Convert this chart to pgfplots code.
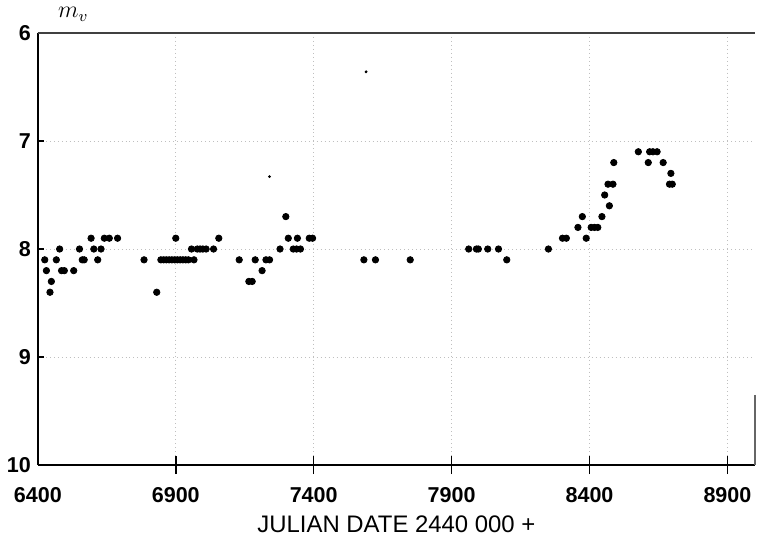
\documentclass[border=0pt]{standalone}
\usepackage{fontspec}
\setmainfont{Liberation Sans}
\usepackage{pgfplots}
\pgfplotsset{compat=1.18}
\usepackage{pgfplotstable}

% visual magnitude vs. julian date
\pgfplotstableread{
jd    mv
6425  8.1
6431  8.2
6444  8.4
6449  8.3
6467  8.1
6479  8.0
6486  8.2
6496  8.2
6530  8.2
6551  8.0
6561  8.1
6568  8.1
6593  7.9
6603  8.0
6617  8.1
6629  8.0
6641  7.9
6659  7.9
6689  7.9
6785  8.1
6831  8.4
6846  8.1
6856  8.1
6866  8.1
6876  8.1
6886  8.1
6896  8.1
6900  7.9
6906  8.1
6916  8.1
6926  8.1
6936  8.1
6946  8.1
6957  8.0
6966  8.1
6978  8.0
6988  8.0
6998  8.0
7010  8.0
7037  8.0
7056  7.9
7130  8.1
7165  8.3
7177  8.3
7188  8.1
7213  8.2
7227  8.1
7240  8.1
7278  8.0
7299  7.7
7308  7.9
7326  8.0
7338  8.0
7341  7.9
7352  8.0
7384  7.9
7396  7.9
7582  8.1
7624  8.1
7750  8.1
7962  8.0
7990  8.0
7997  8.0
8031  8.0
8070  8.0
8100  8.1
8251  8.0
8302  7.9
8316  7.9
8358  7.8
8374  7.7
8388  7.9
8406  7.8
8418  7.8
8430  7.8
8445  7.7
8455  7.5
8467  7.4
8472  7.6
8485  7.4
8488  7.2
8577  7.1
8613  7.2
8618  7.1
8630  7.1
8645  7.1
8667  7.2
8695  7.3
8690  7.4
8700  7.4
}\mvdata

\pgfplotstableread{
jd    mv
7590  6.36
7240  7.33
}\specks

\begin{document}
\begin{tikzpicture}
\begin{axis}[
  scale only axis,
  width=360pt, height=217pt,
  xmin=6400, xmax=9000,
  ymin=6, ymax=10,
  y dir=reverse,
  xtick={6400,6900,...,8900},
  ytick={6,7,8,9,10},
  axis x line*=bottom,
  axis y line*=left,
  x axis line style={-, line width=0.8pt},
  y axis line style={-, line width=1pt},
  tick align=inside,
  major tick length=3pt,
  x tick style={draw=none},
  y tick style={line width=0.8pt, black},
  grid=major,
  major grid style={black!25, dash pattern=on 0.5pt off 1.5pt, line width=0.4pt},
  /pgf/number format/1000 sep={},
  /pgf/number format/assume math mode=true,
  ticklabel style={font=\bfseries\fontsize{10.8}{11}\selectfont},
  xticklabel style={yshift=-7.5pt},
  xlabel={JULIAN DATE 2440 000 +},
  xlabel style={font=\fontsize{12}{12}\selectfont, yshift=0pt},
  clip=false,
]
\addplot[only marks, mark=*, mark size=1.6pt, black] table[x=jd, y=mv] {\mvdata};
\addplot[only marks, mark=*, mark size=0.5pt, black] table[x=jd, y=mv] {\specks};

\pgfplotsinvokeforeach{6900,7400,7900,8400,8900}{
  \draw[line width=0.8pt] ([yshift=-4.5pt]axis cs:#1,10) -- ([yshift=4.5pt]axis cs:#1,10);
}
\draw[line width=0.8pt, black!75] (axis cs:6400,6) -- (axis cs:9000,6);
\draw[line width=0.6pt, black!60] (axis cs:9000,9.35) -- (axis cs:9000,10);

\node[anchor=base west, inner sep=0] at ([xshift=10pt, yshift=7.5pt]axis cs:6400,6)
  {\fontsize{12}{12}\selectfont $m_{v}$};

% keep the margins of the original page
\path ([xshift=-19pt, yshift=-37.7pt]axis cs:6400,10);
\path ([xshift=0.2pt, yshift=16.5pt]axis cs:9000,6);
\end{axis}
\end{tikzpicture}
\end{document}
